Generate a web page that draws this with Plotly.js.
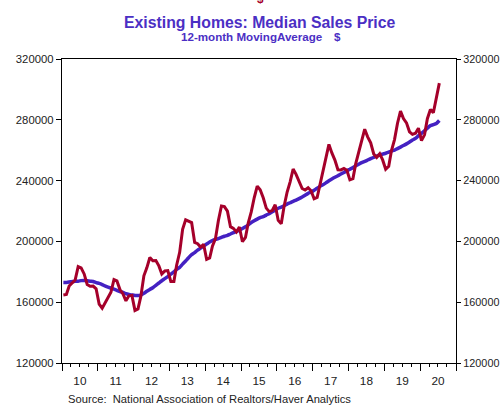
<!DOCTYPE html>
<html>
<head>
<meta charset="utf-8">
<script src="https://cdn.plot.ly/plotly-3.0.1.min.js"></script>
<style>html,body{margin:0;padding:0;background:#fff;}#chart{width:500px;height:405px;}</style>
</head>
<body>
<div id="chart"></div>
<script>
// Monthly, Jan 2010 - Jul 2020
const startYear = 2010;
const medianPrice = [
  164800,165100,170700,172900,174600,183400,182600,178600,171700,170500,170600,168800,
  158800,156100,159600,163700,166500,174900,174000,168300,165400,160900,164200,164500,
  154600,155600,163800,177400,182600,189400,187300,187400,183900,178600,180600,180800,
  173600,173600,184300,192800,208000,214200,213500,212400,199300,198500,196300,198100,
  188200,189100,196800,201800,213800,223300,222900,219900,209700,208600,206200,209500,
  199800,202600,212100,219400,228700,236400,234000,228700,221900,219600,220300,224100,
  213800,211600,223100,232500,239000,247600,244100,240000,234800,233800,235300,233300,
  228000,228900,236900,245800,253600,263800,258200,253500,247100,247000,248000,246800,
  240500,241300,251000,258900,265700,273800,268800,264800,257500,255300,257700,253600,
  247500,249400,259800,267000,277600,285700,280800,278000,272100,270400,271200,274500,
  266300,270100,280700,286800,284600,295300,304100
];
const movingAvg = [
  173030,173020,173230,173650,173710,173840,174200,174300,174080,173820,173640,172870,
  172370,171620,170690,169930,169250,168540,167830,166970,166440,165640,165110,164750,
  164400,164360,164710,165850,167190,168400,169510,171100,172640,174120,175480,176840,
  178420,179920,181630,182910,185030,187090,189280,191360,192640,194300,195610,197050,
  198270,199560,200600,201350,201830,202590,203380,204000,204870,205710,206530,207480,
  208450,209570,210850,212320,213560,214650,215580,216310,217330,218240,219420,220630,
  221800,222550,223470,224560,225420,226350,227190,228130,229210,230390,231640,232410,
  233590,235030,236180,237290,238510,239860,241030,242160,243180,244280,245340,246470,
  247510,248540,249720,250810,251820,252650,253530,254470,255340,256030,256840,257410,
  257990,258670,259400,260080,261070,262060,263060,264160,265380,266640,267760,269500,
  271070,272800,274540,276190,276770,277570,279510
];
const yTicks = [120000,160000,200000,240000,280000,320000];
const titleText = "Existing Homes: Median Sales Price";
const subtitleText = "12-month MovingAverage";
const sourceText = "Source:  National Association of Realtors/Haver Analytics";

const months = medianPrice.map((_, i) => {
  const y = startYear + Math.floor(i / 12);
  const m = (i % 12) + 1;
  return y + "-" + String(m).padStart(2, "0") + "-15";
});

const RED = "#A5002A";
const BLUE = "#4421C2";
const TITLE = "#4B2FC4";
const TXT = "#222222";
const FONT = "Liberation Sans, Arial, sans-serif";

const traces = [
  {x: months, y: movingAvg, type: "scatter", mode: "lines", line: {color: BLUE, width: 3.5, shape: "spline", smoothing: 0.6}, hoverinfo: "skip"},
  {x: months, y: medianPrice, type: "scatter", mode: "lines", line: {color: RED, width: 3}, hoverinfo: "skip"},
  {x: [], y: [], yaxis: "y2", type: "scatter", showlegend: false}
];

const yCommon = {
  range: [120000, 320000], tickvals: yTicks, ticktext: yTicks.map(String),
  ticks: "outside", ticklen: 5, tickwidth: 1, tickcolor: "#000",
  showline: true, linecolor: "#000", linewidth: 1.2, showgrid: false, zeroline: false,
  tickfont: {family: FONT, size: 11.3, color: TXT}, fixedrange: true
};

const layout = {
  width: 500, height: 405,
  margin: {l: 62, r: 44, t: 59, b: 42, pad: 0},
  paper_bgcolor: "#fff", plot_bgcolor: "#fff",
  showlegend: false,
  xaxis: {
    type: "date", range: ["2010-01-01", "2021-01-01"],
    dtick: "M12", tick0: "2010-01-01", tickformat: "%y", ticklabelmode: "period",
    ticks: "outside", ticklen: 7, tickwidth: 1, tickcolor: "#000",
    minor: {dtick: "M3", ticks: "outside", ticklen: 3, tickcolor: "#000", tickwidth: 1, showgrid: false},
    showline: true, mirror: true, linecolor: "#000", linewidth: 1.2, showgrid: false, zeroline: false,
    tickfont: {family: FONT, size: 11.8, color: TXT}, fixedrange: true
  },
  yaxis: Object.assign({}, yCommon, {side: "left"}),
  yaxis2: Object.assign({}, yCommon, {side: "right", overlaying: "y", ticklen: 4, tickfont: {family: FONT, size: 10.8, color: TXT}}),
  annotations: [
    {text: "<b>" + titleText + "</b>", xref: "paper", yref: "paper", x: (259.5 - 62) / 394, y: 1 + (59 - 23) / 304, xanchor: "center", yanchor: "middle", showarrow: false, font: {family: FONT, size: 15.8, color: TITLE}},
    {text: "<b>" + subtitleText + "</b>", xref: "paper", yref: "paper", x: (179 - 62) / 394, y: 1 + (59 - 36) / 304, xanchor: "left", yanchor: "middle", showarrow: false, font: {family: FONT, size: 11.6, color: TITLE}},
    {text: "<b>$</b>", xref: "paper", yref: "paper", x: (337.5 - 62) / 394, y: 1 + (59 - 36) / 304, xanchor: "center", yanchor: "middle", showarrow: false, font: {family: FONT, size: 11.6, color: TITLE}},
    {text: "<b>$</b>", xref: "paper", yref: "paper", x: (260 - 62) / 394, y: 1 + (59 + 1) / 304, xanchor: "center", yanchor: "middle", showarrow: false, font: {family: FONT, size: 11.6, color: RED}},
    {text: sourceText, xref: "paper", yref: "paper", x: (66 - 62) / 394, y: -(399 - 363) / 304, xanchor: "left", yanchor: "middle", showarrow: false, font: {family: FONT, size: 11.2, color: TXT}}
  ]
};

Plotly.newPlot("chart", traces, layout, {staticPlot: true, displayModeBar: false});
</script>
</body>
</html>
